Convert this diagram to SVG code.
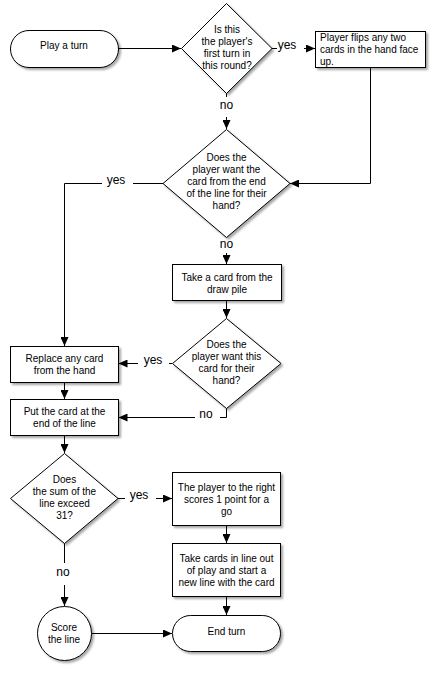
<svg xmlns="http://www.w3.org/2000/svg" width="433" height="681" viewBox="0 0 433 681">
<style>
.shape{fill:#fff;stroke:#000;stroke-width:1;filter:url(#sh)}
.t{font-family:"Liberation Sans",Arial,sans-serif;font-size:10px;fill:#000;text-anchor:middle}
.tl{text-anchor:start}
.lbl{font-family:"Liberation Sans",Arial,sans-serif;font-size:12px;fill:#000;text-anchor:middle}
.c{fill:none;stroke:#000;stroke-width:1}
.a{marker-end:url(#ah)}
</style>
<defs>
<filter id="sh" x="-20%" y="-20%" width="140%" height="140%">
<feDropShadow dx="2" dy="2" stdDeviation="1.2" flood-color="#000" flood-opacity="0.35"/>
</filter>
<marker id="ah" markerUnits="userSpaceOnUse" markerWidth="9" markerHeight="8" refX="9" refY="4" orient="auto">
<path d="M0,0 L9,4 L0,8 z" fill="#000"/>
</marker>
</defs>

<g id="connectors">
<path class="c a" d="M118.5,48.5 H181"/>
<path class="c" d="M272,48.5 H277"/>
<text class="lbl" x="287" y="49">yes</text>
<path class="c a" d="M304,48.5 H315"/>
<path class="c" d="M226.5,93 V97"/>
<text class="lbl" x="226.5" y="109">no</text>
<path class="c a" d="M226.5,117 V129"/>
<path class="c a" d="M370.5,67 V183.5 H290"/>
<path class="c" d="M163,183.5 H133"/>
<text class="lbl" x="116" y="184">yes</text>
<path class="c a" d="M102,183.5 H64.5 V346"/>
<text class="lbl" x="226.5" y="248">no</text>
<path class="c a" d="M226.5,253 V264"/>
<path class="c a" d="M226.5,301 V318"/>
<path class="c" d="M172,363.5 H169"/>
<text class="lbl" x="153" y="364">yes</text>
<path class="c a" d="M138,363.5 H118.5"/>
<path class="c" d="M226.5,408 V417.5 H220"/>
<text class="lbl" x="206" y="418">no</text>
<path class="c a" d="M195,417.5 H118.5"/>
<path class="c a" d="M64.5,382 V399"/>
<path class="c a" d="M64.5,435 V453"/>
<path class="c" d="M118,498.5 H125"/>
<text class="lbl" x="139" y="499">yes</text>
<path class="c a" d="M156,498.5 H172"/>
<path class="c a" d="M226.5,526 V543"/>
<path class="c a" d="M226.5,597 V615"/>
<path class="c" d="M64.5,543 V563"/>
<text class="lbl" x="63" y="576">no</text>
<path class="c a" d="M64.5,585 V606"/>
<path class="c a" d="M91,633.5 H172"/>
</g>

<g id="play-turn">
<rect class="shape" x="10.5" y="30.5" width="108" height="37" rx="18.5" ry="18.5"/>
<text class="t" x="64" y="49">Play a turn</text>
</g>

<g id="first-turn">
<polygon class="shape" points="226.5,3.5 272,48.5 226.5,93.5 181.5,48.5"/>
<text class="t" x="227" y="33">Is this</text>
<text class="t" x="227" y="45">the player's</text>
<text class="t" x="227" y="57">first turn in</text>
<text class="t" x="227" y="69">this round?</text>
</g>

<g id="flip-cards">
<rect class="shape" x="315.5" y="31.5" width="110" height="36"/>
<text class="t tl" x="320" y="41">Player flips any two</text>
<text class="t tl" x="320" y="53">cards in the hand face</text>
<text class="t tl" x="320" y="65">up.</text>
</g>

<g id="want-end-card">
<polygon class="shape" points="226.5,129.5 290,183.5 226.5,237.5 163,183.5"/>
<text class="t" x="226.5" y="161">Does the</text>
<text class="t" x="226.5" y="173">player want the</text>
<text class="t" x="226.5" y="185">card from the end</text>
<text class="t" x="226.5" y="197">of the line for their</text>
<text class="t" x="226.5" y="209">hand?</text>
</g>

<g id="take-draw">
<rect class="shape" x="172.5" y="264.5" width="109" height="36"/>
<text class="t" x="227" y="281">Take a card from the</text>
<text class="t" x="227" y="293">draw pile</text>
</g>

<g id="want-this-card">
<polygon class="shape" points="226.5,318.5 281,363.5 226.5,408.5 172.5,363.5"/>
<text class="t" x="226.5" y="348">Does the</text>
<text class="t" x="226.5" y="360">player want this</text>
<text class="t" x="226.5" y="372">card for their</text>
<text class="t" x="226.5" y="384">hand?</text>
</g>

<g id="replace-card">
<rect class="shape" x="10.5" y="346.5" width="108" height="36"/>
<text class="t" x="64.5" y="361.5">Replace any card</text>
<text class="t" x="64.5" y="373.5">from the hand</text>
</g>

<g id="put-card">
<rect class="shape" x="10.5" y="399.5" width="108" height="36"/>
<text class="t" x="64.5" y="414.5">Put the card at the</text>
<text class="t" x="64.5" y="426.5">end of the line</text>
</g>

<g id="exceed-31">
<polygon class="shape" points="64.5,453.5 118,498.5 64.5,543.5 10.5,498.5"/>
<text class="t" x="64.5" y="482.5">Does</text>
<text class="t" x="64.5" y="494.5">the sum of the</text>
<text class="t" x="64.5" y="506.5">line exceed</text>
<text class="t" x="64.5" y="518.5">31?</text>
</g>

<g id="score-go">
<rect class="shape" x="172.5" y="472.5" width="108" height="53"/>
<text class="t" x="226.5" y="490.5">The player to the right</text>
<text class="t" x="226.5" y="502.5">scores 1 point for a</text>
<text class="t" x="226.5" y="514.5">go</text>
</g>

<g id="new-line">
<rect class="shape" x="172.5" y="543.5" width="108" height="53"/>
<text class="t" x="226.5" y="561.5">Take cards in line out</text>
<text class="t" x="226.5" y="573.5">of play and start a</text>
<text class="t" x="226.5" y="585.5">new line with the card</text>
</g>

<g id="score-line">
<circle class="shape" cx="64.5" cy="633.5" r="27"/>
<text class="t" x="64" y="631">Score</text>
<text class="t" x="64" y="643">the line</text>
</g>

<g id="end-turn">
<rect class="shape" x="172.5" y="615.5" width="108" height="36" rx="18" ry="18"/>
<text class="t" x="226.5" y="634.5">End turn</text>
</g>
</svg>
